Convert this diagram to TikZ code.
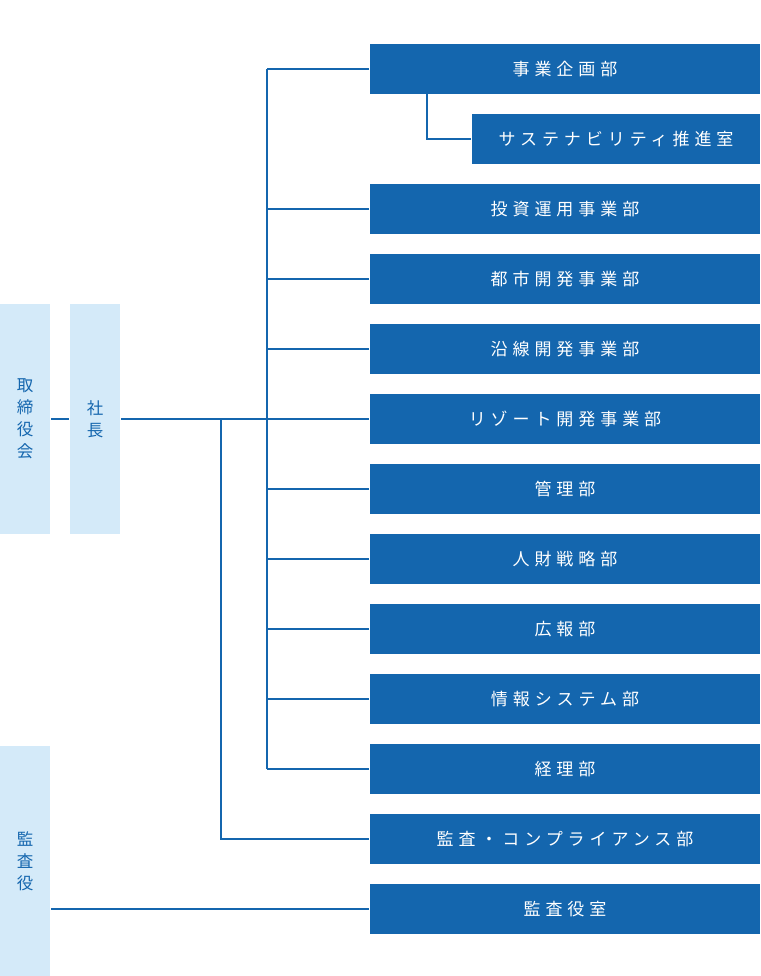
\documentclass[tikz,border=0pt]{standalone}
\usepackage{fontspec}
\usepackage{xcolor}
\usetikzlibrary{positioning}
\newfontfamily\jpfont[LetterSpace=29]{Noto Sans CJK JP}
\newfontfamily\jpplain{Noto Sans CJK JP}
\definecolor{deptblue}{HTML}{1466AE}
\definecolor{paleblue}{HTML}{D4EAF9}

\begin{document}
\begin{tikzpicture}[x=1pt, y=-1pt, line width=2pt,
    every node/.style={inner sep=0pt},
    dept/.style={fill=deptblue, text=white, minimum width=390pt, minimum height=50pt,
        font=\jpfont\fontsize{17}{22}\selectfont},
    board/.style={fill=paleblue, text=deptblue, minimum width=50pt, minimum height=230pt,
        align=center, font=\jpplain\fontsize{16.5}{22}\selectfont}]
    \useasboundingbox (0,0) rectangle (760,976);

    % Board nodes
    \node[board] (bod) at (25,419) {取\\締\\役\\会};
    \node[board] (ceo) at (95,419) {社\\長};
    \node[board] (aud) at (25,861) {監\\査\\役};

    % Department nodes
    \node[dept] (d1) at (565,69) {事業企画部};
    \node[dept, minimum width=288pt] (sus) at (616,139) {サステナビリティ推進室};
    \node[dept] (d2) at (565,209) {投資運用事業部};
    \node[dept] (d3) at (565,279) {都市開発事業部};
    \node[dept] (d4) at (565,349) {沿線開発事業部};
    \node[dept] (d5) at (565,419) {リゾート開発事業部};
    \node[dept] (d6) at (565,489) {管理部};
    \node[dept] (d7) at (565,559) {人財戦略部};
    \node[dept] (d8) at (565,629) {広報部};
    \node[dept] (d9) at (565,699) {情報システム部};
    \node[dept] (d10) at (565,769) {経理部};
    \node[dept] (d11) at (565,839) {監査・コンプライアンス部};
    \node[dept] (d12) at (565,909) {監査役室};

    % Trunk coordinates
    \coordinate (t0) at (267,69);
    \coordinate (t1) at (267,769);
    \coordinate (c0) at (221,419);
    \coordinate (s0) at (427,94);

    % Edges
    \begin{scope}[draw=deptblue]
    \draw (bod.east) -- (ceo.west);
    \draw (ceo.east) -- (d5.west);
    \draw (t0) -- (t1);
    \draw (d1.west) -- (t0);
    \draw (d10.west) -- (t1);
    \draw (d2.west) -- (d2.west -| t0);
    \draw (d3.west) -- (d3.west -| t0);
    \draw (d4.west) -- (d4.west -| t0);
    \draw (d6.west) -- (d6.west -| t0);
    \draw (d7.west) -- (d7.west -| t0);
    \draw (d8.west) -- (d8.west -| t0);
    \draw (d9.west) -- (d9.west -| t0);
    \draw (c0) |- (d11.west);
    \draw (s0) |- (sus.west);
    \draw (aud.east |- d12.west) -- (d12.west);
    \end{scope}
\end{tikzpicture}
\end{document}
